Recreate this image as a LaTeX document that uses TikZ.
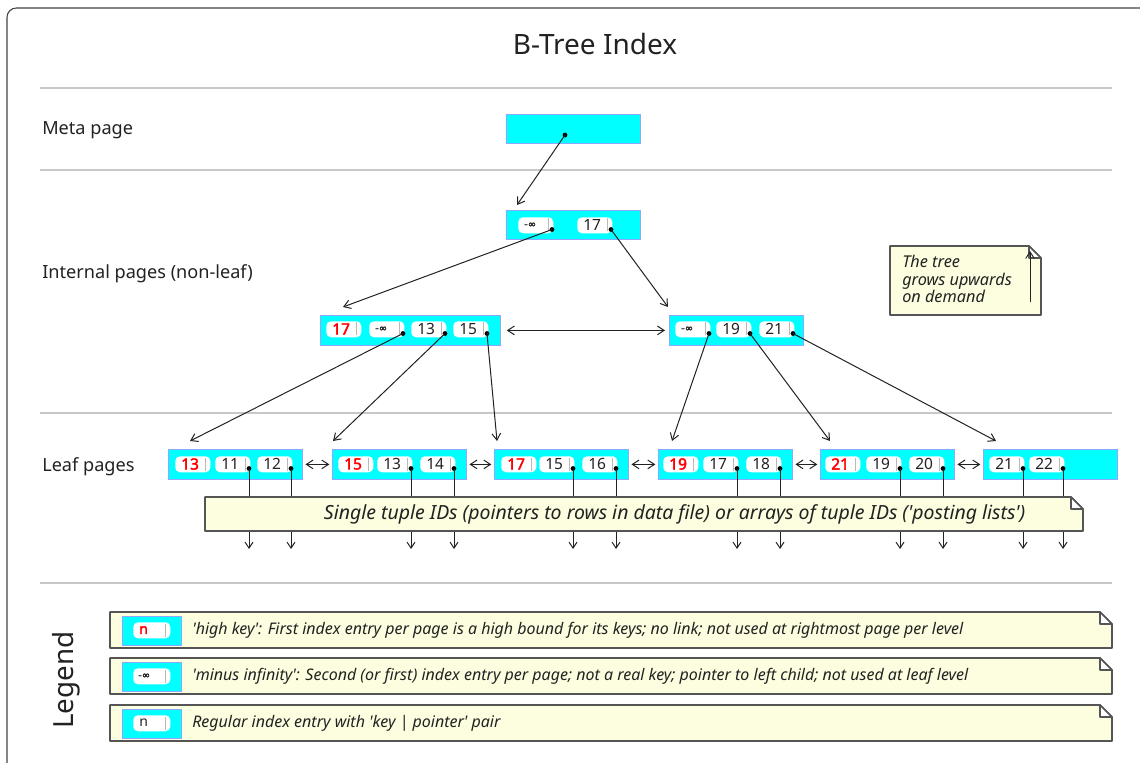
\documentclass[tikz,border=0pt]{standalone}
\usepackage{fontspec}
\setmainfont{Noto Sans}
\newfontfamily\symfont{DejaVu Sans}[FakeBold=1.5]
\newfontfamily\keybold{Noto Sans}[FakeBold=2.5]
\usetikzlibrary{arrows.meta}

\definecolor{pagecyan}{HTML}{00FFFF}
\definecolor{pageedge}{HTML}{8FA8FF}
\definecolor{notefill}{HTML}{FDFDE0}
\definecolor{noteedge}{HTML}{555555}
\definecolor{rulegray}{HTML}{C8C8C8}
\definecolor{keyred}{HTML}{FF0000}
\definecolor{ink}{HTML}{222222}
\definecolor{framegray}{HTML}{444444}

\newcommand\sq{\textquotesingle}

\tikzset{
  pagebox/.style={draw=pageedge, fill=pagecyan, line width=0.6pt, inner sep=0pt, anchor=north west},
  pillbox/.style={fill=white, rounded corners=3.5pt, minimum width=26.25pt, minimum height=12pt, inner sep=0pt, anchor=north west},
  keytext/.style={font=\fontsize{11.6}{13}\selectfont, text=ink, anchor=west, inner sep=0pt},
  hightext/.style={font=\keybold\fontsize{11.6}{13}\selectfont, text=keyred, anchor=west, inner sep=0pt},
  inftext/.style={font=\symfont\fontsize{7.5}{8}\selectfont, text=ink, anchor=west, inner sep=0pt},
  ptr/.style={draw=ink, line width=0.75pt, -{Straight Barb[length=5pt,width=6.5pt]}},
  sib/.style={draw=ink, line width=0.75pt, {Straight Barb[length=5pt,width=6.5pt]}-{Straight Barb[length=5pt,width=6.5pt]}},
  post/.style={draw=ink, line width=0.75pt, -{Straight Barb[length=4.5pt,width=6pt]}},
  ptrdot/.style={circle, fill=black, inner sep=0pt, minimum size=3.6pt},
  rowrule/.style={draw=rulegray, line width=0.8pt},
  rowlabel/.style={font=\fontsize{13.6}{16}\selectfont, text=ink, anchor=west, inner sep=0pt},
  notepath/.style={draw=noteedge, fill=notefill, line width=1.2pt, line join=round},
  notetext/.style={font=\fontsize{12}{14}\selectfont\itshape, text=ink, inner sep=0pt},
}

% key|pointer entry with a pointer dot at its lower right corner
\newcommand\keypill[5]{%
  \node[pillbox] (#1) at (#2,#3) {};
  \draw[draw=gray!55, line width=0.6pt] (#2+30,#3+1.5) -- (#2+30,#3+14.5);
  \node[#5] at (#2+6,#3+8) {#4};
  \node[ptrdot] (#1d) at (#2+34,#3+12.5) {};
}
% high key entry: no pointer
\newcommand\highpill[4]{%
  \node[pillbox] (#1) at (#2,#3) {};
  \draw[draw=gray!55, line width=0.6pt] (#2+30,#3+1.5) -- (#2+30,#3+14.5);
  \node[hightext] at (#2+6,#3+8) {#4};
}
% note with a folded top right corner
\newcommand\foldnote[5]{%
  \path[notepath] (#2,#3) -- (#4-12,#3) -- (#4,#3+12) -- (#4,#5) -- (#2,#5) -- cycle;
  \path[notepath, fill=white] (#4-12,#3) -- (#4-12,#3+12) -- (#4,#3+12) -- cycle;
  \coordinate (#1) at ({(#2+#4)/2},{(#3+#5)/2});
}

\begin{document}
\begin{tikzpicture}[x=0.75pt, y=-0.75pt]
\useasboundingbox (0,0) rectangle (1140,763);

% frame and title
\draw[framegray, line width=0.8pt, rounded corners=7pt] (7,8) rectangle (1160,780);
\node[font=\fontsize{21}{25}\selectfont, text=ink] (title) at (595,44) {B-Tree Index};

% row separators
\foreach \yy in {88,170,413,583} \draw[rowrule] (40,\yy) -- (1112,\yy);

% row labels
\node[rowlabel] (lmeta) at (42,130) {Meta page};
\node[rowlabel] (linner) at (42,274) {Internal pages (non-leaf)};
\node[rowlabel] (lleaf) at (42,467) {Leaf pages};

% meta page
\node[pagebox, minimum width=100.5pt, minimum height=21.75pt] (meta) at (506,114) {};
\node[ptrdot] (metad) at (565,135) {};

% root page
\node[pagebox, minimum width=100.5pt, minimum height=21.75pt] (root) at (506,210) {};
\keypill{ra}{518}{217}{-∞}{inftext}
\keypill{rb}{577}{217}{17}{keytext}

% internal pages
\node[pagebox, minimum width=135pt, minimum height=22.5pt] (ipl) at (320,315) {};
\highpill{la}{326}{321}{17}
\keypill{lb}{369}{321}{-∞}{inftext}
\keypill{lc}{411}{321}{13}{keytext}
\keypill{ld}{453}{321}{15}{keytext}

\node[pagebox, minimum width=100.5pt, minimum height=22.5pt] (ipr) at (669,315) {};
\keypill{ma}{675}{321}{-∞}{inftext}
\keypill{mb}{716}{321}{19}{keytext}
\keypill{mc}{759}{321}{21}{keytext}

% leaf pages
\node[pagebox, minimum width=100.5pt, minimum height=22.5pt] (lf1) at (168,449) {};
\highpill{aa}{175}{456}{13}
\keypill{ab}{215}{456}{11}{keytext}
\keypill{ac}{257}{456}{12}{keytext}

\node[pagebox, minimum width=100.5pt, minimum height=22.5pt] (lf2) at (332,449) {};
\highpill{ba}{338}{456}{15}
\keypill{bb}{377}{456}{13}{keytext}
\keypill{bc}{420}{456}{14}{keytext}

\node[pagebox, minimum width=100.5pt, minimum height=22.5pt] (lf3) at (494,449) {};
\highpill{ca}{501}{456}{17}
\keypill{cb}{539}{456}{15}{keytext}
\keypill{cc}{582}{456}{16}{keytext}

\node[pagebox, minimum width=100.5pt, minimum height=22.5pt] (lf4) at (658,449) {};
\highpill{da}{663}{456}{19}
\keypill{db}{703}{456}{17}{keytext}
\keypill{dc}{746}{456}{18}{keytext}

\node[pagebox, minimum width=100.5pt, minimum height=22.5pt] (lf5) at (820,449) {};
\highpill{ea}{825}{456}{21}
\keypill{eb}{866}{456}{19}{keytext}
\keypill{ec}{909}{456}{20}{keytext}

\node[pagebox, minimum width=100.5pt, minimum height=22.5pt] (lf6) at (983,449) {};
\keypill{fb}{989}{456}{21}{keytext}
\keypill{fc}{1029}{456}{22}{keytext}

% child pointers
\coordinate (tRoot) at (517,205);
\coordinate (tIpl) at (343,307);
\coordinate (tIpr) at (668,307);
\coordinate (tLf1) at (190,441);
\coordinate (tLf2) at (333,441);
\coordinate (tLf3) at (497,441);
\coordinate (tLf4) at (672,441);
\coordinate (tLf5) at (830,441);
\coordinate (tLf6) at (996,441);
\draw[ptr] (metad.center) -- (tRoot);
\draw[ptr] (rad.center) -- (tIpl);
\draw[ptr] (rbd.center) -- (tIpr);
\draw[ptr] (lbd.center) -- (tLf1);
\draw[ptr] (lcd.center) -- (tLf2);
\draw[ptr] (ldd.center) -- (tLf3);
\draw[ptr] (mad.center) -- (tLf4);
\draw[ptr] (mbd.center) -- (tLf5);
\draw[ptr] (mcd.center) -- (tLf6);

% sibling links
\draw[sib, shorten <=4.5pt, shorten >=3pt] (ipl.east) -- (ipr.west);
\draw[sib, shorten <=2pt, shorten >=2pt] (lf1.east) -- (lf2.west);
\draw[sib, shorten <=2pt, shorten >=2pt] (lf2.east) -- (lf3.west);
\draw[sib, shorten <=2pt, shorten >=2pt] (lf3.east) -- (lf4.west);
\draw[sib, shorten <=2pt, shorten >=2pt] (lf4.east) -- (lf5.west);
\draw[sib, shorten <=2pt, shorten >=2pt] (lf5.east) -- (lf6.west);

% heap tuple pointers, passing under the note
\coordinate (postend) at (0,549);
\foreach \p in {abd,acd,bbd,bcd,cbd,ccd,dbd,dcd,ebd,ecd,fbd,fcd}
  \draw[post] (\p.center) -- (\p |- postend);
\foldnote{tidnote}{205}{497}{1083}{531}
\node[notetext, font=\fontsize{14.6}{16}\selectfont\itshape] (tidtext) at ([xshift=23pt]tidnote) {Single tuple IDs (pointers to rows in data file) or arrays of tuple IDs (\sq posting lists\sq)};

% growth note
\foldnote{grownote}{890}{246}{1041}{315}
\node[notetext, anchor=north west, align=left, font=\fontsize{12.2}{13.2}\selectfont\itshape] (growtext) at (902,255) {The tree\\grows upwards\\on demand};
\coordinate (growlo) at (1030,302);
\coordinate (growhi) at (1030,251);
\draw[ptr, line width=0.7pt] (growlo) -- (growhi);

% legend
\node[font=\fontsize{20.8}{24}\selectfont, text=ink, rotate=90] (legend) at (66,680) {Legend};

\foldnote{lg1}{110}{612}{1112}{648}
\node[pagebox, minimum width=44.25pt, minimum height=21.75pt] (lg1p) at (122,616) {};
\node[pillbox, minimum width=27.75pt] (lg1k) at (133,622) {};
\draw[draw=gray!55, line width=0.6pt] (165,623.5) -- (165,636.5);
\node[hightext, font=\keybold\fontsize{10.5}{12}\selectfont] at (139,630) {n};
\node[notetext, anchor=west] (lg1t) at (192,630) {\sq high key\sq: First index entry per page is a high bound for its keys; no link; not used at rightmost page per level};

\foldnote{lg2}{110}{658}{1112}{694}
\node[pagebox, minimum width=44.25pt, minimum height=21.75pt] (lg2p) at (122,662) {};
\node[pillbox, minimum width=27.75pt] (lg2k) at (133,668) {};
\draw[draw=gray!55, line width=0.6pt] (165,669.5) -- (165,682.5);
\node[inftext] at (138,676) {-∞};
\node[notetext, anchor=west] (lg2t) at (192,676) {\sq minus infinity\sq: Second (or first) index entry per page; not a real key; pointer to left child; not used at leaf level};

\foldnote{lg3}{110}{705}{1112}{741}
\node[pagebox, minimum width=44.25pt, minimum height=21.75pt] (lg3p) at (122,709) {};
\node[pillbox, minimum width=27.75pt] (lg3k) at (133,715) {};
\draw[draw=gray!55, line width=0.6pt] (165,716.5) -- (165,729.5);
\node[keytext, font=\fontsize{10.5}{12}\selectfont] at (139,723) {n};
\node[notetext, anchor=west] (lg3t) at (192,723) {Regular index entry with \sq key | pointer\sq{} pair};

\end{tikzpicture}
\end{document}
